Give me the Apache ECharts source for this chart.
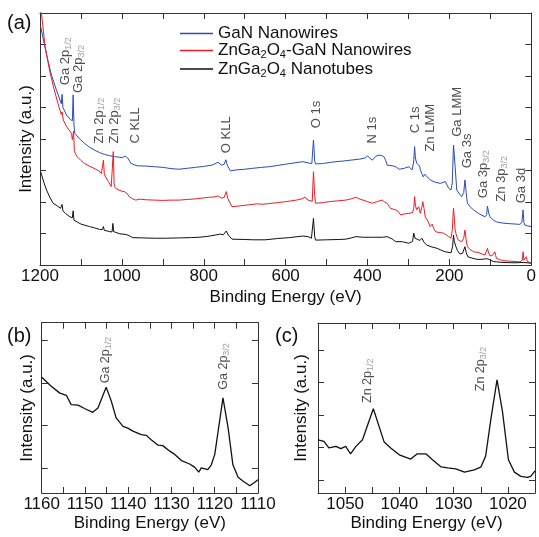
<!DOCTYPE html>
<html>
<head>
<meta charset="utf-8">
<script src="https://cdn.jsdelivr.net/npm/echarts@6.0.0/dist/echarts.min.js"></script>
<style>
  html, body { margin: 0; padding: 0; background: #fff; }
  #chart { width: 539px; height: 537px; }
</style>
</head>
<body>
<div id="chart"></div>
<script>
// survey spectra (a): binding energy (eV) and intensity (arbitrary, offset units)
const ganEnergy = [1198, 1184, 1172, 1160, 1150, 1148, 1146, 1144, 1135, 1126, 1121, 1119, 1117, 1115, 1103, 1091, 1079, 1067, 1055, 1042, 1030, 1018, 1005, 998, 992, 986, 978, 970, 962, 940, 920, 900, 880, 861, 840, 820, 800, 780, 765, 757, 750, 746, 742, 735, 720, 700, 680, 659, 640, 620, 600, 580, 558, 545, 536, 532, 529, 527, 510, 490, 477, 460, 440, 420, 405, 400, 398, 395, 388, 380, 372, 365, 360, 355, 352, 340, 331, 323, 310, 299, 291, 287, 285, 283, 280, 276, 273, 271, 264, 260, 256, 247, 235, 222, 210, 202, 196, 193, 190, 188, 186, 182, 175, 170, 165, 162, 159, 156, 148, 141, 128, 113, 109, 107, 104, 101, 92, 85, 70, 50, 28, 23, 20, 18, 16, 8, 0];
const ganCounts = [7.55, 6.67, 6.03, 5.56, 5.2, 5.12, 5.42, 5.0, 4.76, 4.62, 4.58, 5.4, 4.45, 4.18, 4.0, 3.86, 3.74, 3.65, 3.57, 3.51, 3.47, 3.44, 3.42, 3.41, 3.46, 3.4, 3.23, 3.18, 3.15, 3.14, 3.12, 3.1, 3.06, 3.04, 3.07, 3.1, 3.13, 3.17, 3.26, 3.17, 3.2, 3.34, 3.15, 2.99, 3.02, 3.04, 3.07, 3.1, 3.12, 3.16, 3.2, 3.24, 3.28, 3.24, 3.22, 3.97, 3.3, 3.21, 3.22, 3.26, 3.28, 3.3, 3.33, 3.36, 3.4, 3.47, 3.53, 3.4, 3.33, 3.45, 3.49, 3.47, 3.44, 3.3, 3.17, 3.15, 3.12, 3.04, 3.07, 3.12, 3.02, 3.3, 3.76, 3.4, 3.23, 3.28, 3.15, 3.02, 2.8, 2.88, 2.86, 2.7, 2.63, 2.59, 2.65, 2.44, 2.38, 2.6, 3.81, 3.5, 3.12, 2.38, 2.25, 2.17, 2.3, 2.7, 2.3, 1.96, 1.83, 1.75, 1.63, 1.53, 1.6, 1.87, 1.65, 1.53, 1.42, 1.37, 1.33, 1.31, 1.29, 1.35, 1.75, 1.35, 1.27, 1.24, 1.22];

const hybridEnergy = [1199, 1196, 1188, 1176, 1164, 1154, 1148, 1146, 1143, 1135, 1123, 1121, 1118, 1116, 1110, 1100, 1092, 1080, 1068, 1058, 1050, 1047, 1045, 1043, 1040, 1033, 1026, 1023, 1021, 1019, 1018, 1014, 1010, 1002, 994, 988, 982, 974, 966, 958, 940, 920, 900, 880, 861, 840, 820, 800, 788, 775, 765, 756, 750, 745, 741, 731, 710, 690, 670, 655, 640, 620, 600, 574, 560, 553, 545, 541, 535, 532, 529, 527, 510, 493, 470, 453, 440, 428, 420, 416, 400, 388, 375, 364, 358, 352, 344, 340, 331, 325, 319, 310, 299, 290, 287, 285, 283, 280, 275, 271, 267, 265, 262, 259, 253, 247, 242, 238, 234, 225, 214, 208, 202, 196, 193, 190, 188, 186, 182, 178, 170, 165, 162, 159, 156, 150, 141, 137, 130, 120, 113, 109, 107, 104, 101, 95, 92, 89, 87, 85, 77, 69, 50, 28, 22, 20, 18, 15, 12, 10, 8, 0];
const hybridCounts = [8.3, 7.94, 6.98, 6.14, 5.5, 5.03, 4.78, 4.86, 4.6, 4.39, 4.18, 3.98, 4.25, 3.6, 3.45, 3.32, 3.23, 3.14, 3.07, 3.0, 2.91, 2.95, 3.33, 2.9, 2.8, 2.65, 2.49, 2.5, 3.6, 2.6, 2.49, 2.42, 2.38, 2.35, 2.33, 2.28, 2.17, 2.1, 2.06, 2.09, 2.07, 2.06, 2.05, 2.06, 2.06, 2.08, 2.1, 2.13, 2.15, 2.16, 2.19, 2.12, 2.15, 2.33, 2.1, 1.85, 1.88, 1.91, 1.94, 1.93, 1.95, 1.98, 2.01, 2.06, 2.1, 2.15, 2.06, 2.01, 2.02, 2.96, 2.2, 1.96, 1.98, 2.01, 2.04, 2.06, 2.1, 2.15, 2.1, 2.06, 2.01, 1.96, 2.02, 2.06, 2.0, 1.96, 1.8, 1.85, 1.75, 1.7, 1.59, 1.62, 1.64, 1.66, 1.8, 2.17, 1.9, 1.75, 1.85, 1.64, 1.85, 2.01, 1.8, 1.53, 1.4, 1.22, 1.3, 1.15, 1.06, 1.03, 1.01, 0.96, 0.9, 0.85, 1.1, 1.8, 1.5, 1.11, 0.9, 0.79, 0.74, 0.85, 1.11, 0.8, 0.58, 0.5, 0.42, 0.46, 0.4, 0.35, 0.32, 0.38, 0.53, 0.38, 0.29, 0.3, 0.35, 0.42, 0.3, 0.21, 0.17, 0.14, 0.12, 0.1, 0.15, 0.42, 0.15, 0.12, 0.26, 0.12, 0.07, 0.05];

const tubeEnergy = [1198, 1196, 1190, 1184, 1176, 1168, 1158, 1150, 1146, 1144, 1138, 1127, 1121, 1119, 1117, 1115, 1100, 1090, 1079, 1067, 1055, 1048, 1045, 1043, 1036, 1030, 1024, 1022, 1020, 1018, 1005, 990, 982, 974, 950, 920, 893, 860, 830, 812, 790, 772, 760, 752, 745, 740, 731, 700, 680, 650, 620, 590, 558, 545, 537, 532, 529, 527, 500, 470, 453, 440, 428, 410, 390, 364, 352, 340, 331, 327, 315, 299, 290, 287, 284, 280, 272, 267, 262, 255, 245, 230, 220, 210, 196, 192, 190, 188, 184, 180, 174, 168, 162, 159, 155, 145, 133, 120, 110, 107, 103, 93, 85, 69, 40, 20, 0];
const tubeCounts = [2.95, 2.86, 2.6, 2.38, 2.15, 1.96, 1.88, 1.8, 1.92, 1.72, 1.64, 1.53, 1.5, 1.72, 1.42, 1.38, 1.3, 1.26, 1.22, 1.18, 1.13, 1.12, 1.22, 1.1, 1.08, 1.06, 1.05, 1.32, 1.06, 1.01, 0.99, 0.97, 0.93, 0.87, 0.86, 0.85, 0.85, 0.86, 0.87, 0.88, 0.91, 0.95, 0.98, 0.96, 1.08, 0.95, 0.82, 0.81, 0.8, 0.8, 0.84, 0.87, 0.92, 0.9, 0.85, 1.48, 0.9, 0.79, 0.8, 0.81, 0.82, 0.86, 0.9, 0.88, 0.88, 0.88, 0.9, 0.83, 0.74, 0.79, 0.74, 0.69, 0.75, 1.01, 0.85, 0.79, 0.78, 0.85, 0.72, 0.63, 0.58, 0.53, 0.47, 0.42, 0.39, 0.6, 0.95, 0.75, 0.58, 0.45, 0.35, 0.37, 0.58, 0.4, 0.26, 0.22, 0.18, 0.18, 0.2, 0.26, 0.18, 0.11, 0.1, 0.08, 0.07, 0.08, 0.06];

const surveyPeakNames = ['Ga 2p_1/2', 'Ga 2p_3/2', 'Zn 2p_1/2', 'Zn 2p_3/2', 'C KLL', 'O KLL', 'O 1s', 'N 1s', 'C 1s', 'Zn LMM', 'Ga LMM', 'Ga 3s', 'Ga 3p_3/2', 'Zn 3p_3/2', 'Ga 3d'];
const surveyPeakE = [1138, 1105, 1056, 1018, 966, 744, 525, 388, 283, 247, 180, 155, 116, 73, 24];
const surveyPeakY = [5.71, 5.46, 3.86, 3.86, 3.86, 3.55, 4.34, 3.86, 4.18, 3.6, 4.07, 3.07, 2.12, 2.01, 1.96];

// (b) Ga 2p region
const ga2pEnergy = [1160, 1157.8, 1155.8, 1154.3, 1153.2, 1151.6, 1150.1, 1148.2, 1147, 1145.1, 1143.9, 1142.8, 1141.2, 1140.1, 1138.9, 1137, 1135.8, 1134.7, 1133.1, 1132, 1130.4, 1129.3, 1127.7, 1125.8, 1124.6, 1123.7, 1123.1, 1121.6, 1120.8, 1120, 1118.1, 1116.9, 1115.8, 1114.6, 1113.5, 1111.9, 1110.9, 1110];
const ga2pCounts = [2.13, 1.92, 1.76, 1.71, 1.49, 1.48, 1.4, 1.31, 1.41, 1.9, 1.57, 1.18, 0.98, 0.94, 0.87, 0.79, 0.77, 0.67, 0.54, 0.53, 0.4, 0.33, 0.18, 0.1, 0.02, -0.09, 0.01, -0.03, 0.08, 0.32, 1.65, 0.94, 0.08, -0.21, -0.3, -0.41, -0.34, -0.27];
const ga2pPeakNames = ['Ga 2p_1/2', 'Ga 2p_3/2'];
const ga2pPeakE = [1145.2, 1118];
const ga2pPeakY = [1.99, 1.84];

// (c) Zn 2p region
const zn2pEnergy = [1055, 1053.9, 1053, 1051.7, 1050.8, 1049.9, 1049, 1048, 1046.8, 1044.8, 1042.8, 1041.6, 1039.9, 1037.9, 1036.7, 1035.1, 1033.9, 1032.3, 1031.1, 1029.6, 1028, 1026.2, 1025, 1024.1, 1023.1, 1022, 1021, 1019.9, 1018.8, 1017.6, 1016.4, 1015.8, 1015];
const zn2pCounts = [1.24, 1.19, 0.99, 1.04, 0.97, 1.04, 0.81, 1.04, 1.24, 2.19, 1.17, 0.99, 0.77, 0.65, 0.81, 0.81, 0.63, 0.41, 0.38, 0.35, 0.25, 0.32, 0.4, 0.74, 1.91, 3.08, 2.11, 0.63, 0.25, 0.12, 0.09, 0.12, 0.29];
const zn2pPeakNames = ['Zn 2p_1/2', 'Zn 2p_3/2'];
const zn2pPeakE = [1045.9, 1025];
const zn2pPeakY = [2.37, 2.73];

const seriesNames = ['GaN Nanowires', 'ZnGa2O4-GaN Nanowires', 'ZnGa2O4 Nanotubes'];
const seriesColors = ['#2b4bb8', '#ec1c24', '#111111'];

const fontFamily = '"Liberation Sans", Arial, sans-serif';
const axisColor = '#333';

function pairs(xs, ys) {
  return xs.map((x, i) => [x, ys[i]]);
}

// "Ga 2p_1/2" -> main text + grey subscript
function peakRich(s) {
  const parts = s.split('_');
  return parts[1] ? `{m|${parts[0]}}{s|${parts[1]}}` : `{m|${parts[0]}}`;
}

// digits in formula become subscripts
function legendRich(name) {
  return name.split(/(\d)/).filter(Boolean)
    .map(t => /\d/.test(t) ? `{s|${t}}` : `{n|${t}}`).join('');
}

function xAxes(grid, min, max, interval, formatter, nameGap) {
  const base = {
    type: 'value', gridIndex: grid, min, max, interval, inverse: true,
    axisLine: { show: true, onZero: false, lineStyle: { color: axisColor, width: 1 } },
    axisTick: { show: true, inside: true, length: 6, lineStyle: { color: axisColor } },
    splitLine: { show: false },
  };
  return [
    Object.assign({}, base, {
      position: 'bottom',
      name: 'Binding Energy (eV)', nameLocation: 'middle', nameGap,
      nameTextStyle: { fontSize: 17, color: '#111', fontFamily },
      axisLabel: { show: true, margin: 3, fontSize: 17, color: '#111', fontFamily, formatter, showMinLabel: true, showMaxLabel: true },
    }),
    Object.assign({}, base, { position: 'top', axisLabel: { show: false } }),
  ];
}

function yAxes(grid, min, max, ticks, nameGap) {
  const base = {
    type: 'value', gridIndex: grid, min, max,
    axisLine: { show: true, onZero: false, lineStyle: { color: axisColor, width: 1 } },
    axisTick: { show: true, inside: true, length: 6, customValues: ticks, lineStyle: { color: axisColor } },
    axisLabel: { show: false },
    splitLine: { show: false },
  };
  return [
    Object.assign({}, base, {
      position: 'left',
      name: 'Intensity (a.u.)', nameLocation: 'middle', nameRotate: 90, nameGap,
      nameTextStyle: { fontSize: 17, color: '#111', fontFamily },
    }),
    Object.assign({}, base, { position: 'right' }),
  ];
}

function lineSeries(name, xs, ys, color, axis, width) {
  return {
    name, type: 'line', xAxisIndex: axis, yAxisIndex: axis,
    data: pairs(xs, ys), symbol: 'none', clip: true,
    lineStyle: { color, width: width || 1 }, itemStyle: { color },
  };
}

function labelSeries(names, xs, ys, axis, fs) {
  return {
    type: 'scatter', xAxisIndex: axis, yAxisIndex: axis, silent: true,
    symbolSize: 1, itemStyle: { color: 'rgba(0,0,0,0)' },
    data: xs.map((x, i) => ({ value: [x, ys[i]], name: names[i] })),
    label: {
      show: true, position: 'inside', rotate: 90, align: 'left', verticalAlign: 'middle',
      formatter: p => peakRich(p.name),
      rich: {
        m: { fontSize: fs, color: '#222', fontFamily, lineHeight: fs + 2 },
        s: { fontSize: Math.round(fs * 0.68), color: '#888', fontFamily, verticalAlign: 'bottom', lineHeight: 8 },
      },
    },
  };
}

const chart = echarts.init(document.getElementById('chart'), null, { renderer: 'canvas' });

chart.setOption({
  animation: false,
  backgroundColor: '#fff',
  textStyle: { fontFamily },
  grid: [
    { left: 40, top: 13, width: 495, height: 252 },
    { left: 41.7, top: 322.7, width: 216.3, height: 170.3 },
    { left: 318, top: 323, width: 217, height: 170 },
  ],
  legend: {
    data: seriesNames, orient: 'vertical', left: 175, top: 20,
    icon: 'rect', itemWidth: 33, itemHeight: 1.3, itemGap: 0,
    formatter: legendRich,
    textStyle: {
      rich: {
        n: { fontSize: 17, color: '#111', fontFamily, lineHeight: 20 },
        s: { fontSize: 11, color: '#111', fontFamily, verticalAlign: 'bottom', lineHeight: 9 },
      },
    },
  },
  graphic: [
    { type: 'text', left: 7, top: 13, style: { text: '(a)', fontSize: 20, fill: '#111', fontFamily } },
    { type: 'text', left: 7, top: 326, style: { text: '(b)', fontSize: 20, fill: '#111', fontFamily } },
    { type: 'text', left: 275, top: 326, style: { text: '(c)', fontSize: 20, fill: '#111', fontFamily } },
  ],
  xAxis: [
    ...xAxes(0, 0, 1200, 100, v => (v % 200 === 0 ? String(v) : ''), 24),
    ...xAxes(1, 1110, 1160, 5, v => (v % 10 === 0 ? String(v) : ''), 22),
    ...xAxes(2, 1015, 1055, 5, v => (v % 10 === 0 ? String(v) : ''), 22),
  ],
  yAxis: [
    ...yAxes(0, 0, 8, [0, 1, 2, 3, 4, 5, 6, 7, 8], 5),
    ...yAxes(1, -0.58, 3.41, [0, 1, 2, 3], 6),
    ...yAxes(2, -0.39, 4.82, [0, 1, 2, 3, 4], 8),
  ],
  series: [
    lineSeries(seriesNames[0], ganEnergy, ganCounts, seriesColors[0], 0),
    lineSeries(seriesNames[1], hybridEnergy, hybridCounts, seriesColors[1], 0),
    lineSeries(seriesNames[2], tubeEnergy, tubeCounts, seriesColors[2], 0),
    labelSeries(surveyPeakNames, surveyPeakE, surveyPeakY, 0, 13),
    lineSeries('Ga 2p', ga2pEnergy, ga2pCounts, '#111', 2, 1.3),
    labelSeries(ga2pPeakNames, ga2pPeakE, ga2pPeakY, 2, 12.5),
    lineSeries('Zn 2p', zn2pEnergy, zn2pCounts, '#111', 4, 1.3),
    labelSeries(zn2pPeakNames, zn2pPeakE, zn2pPeakY, 4, 12.5),
  ],
});
</script>
</body>
</html>
